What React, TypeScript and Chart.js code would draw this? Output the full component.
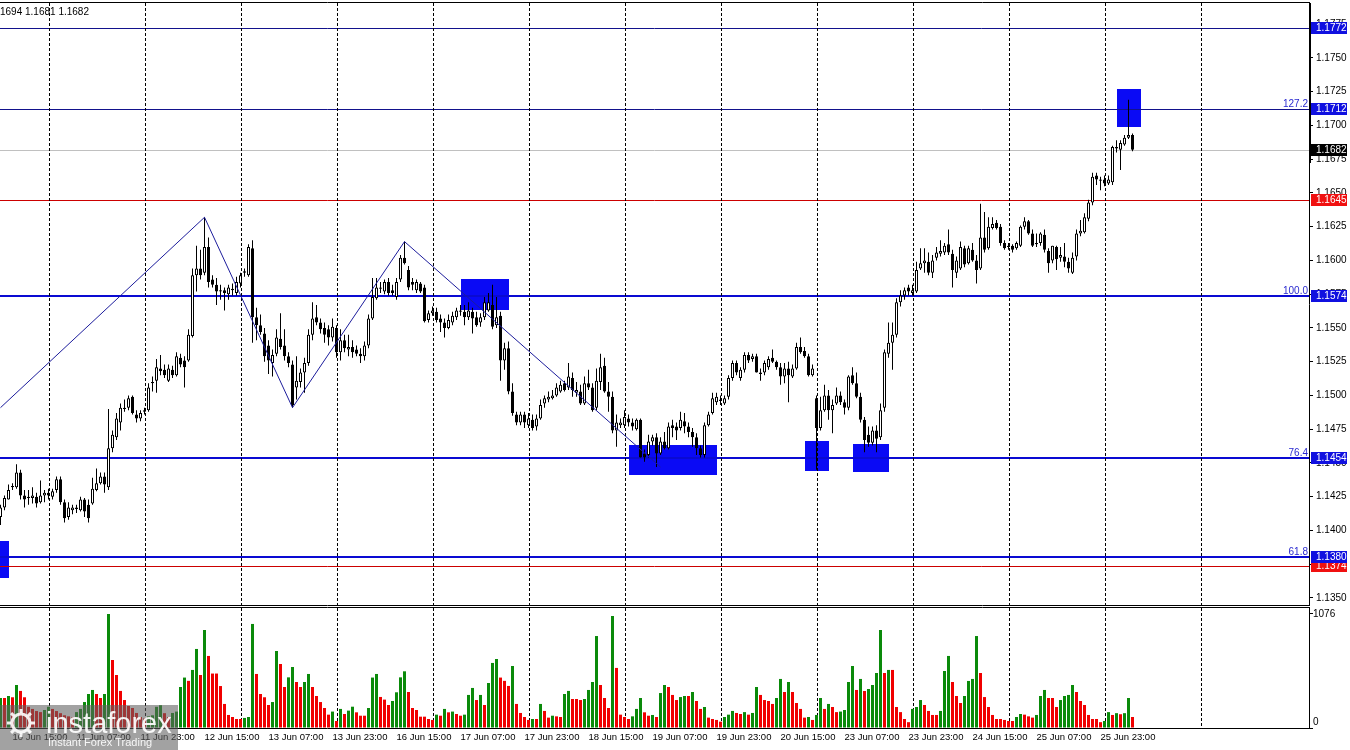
import { useEffect, useRef } from 'react';
import { Chart, registerables } from 'chart.js';
Chart.register(...registerables);

// ---------- DATA (EURUSD H1) ----------
const opens = [
1.1410,1.1417,1.1423,1.1432,1.1432,1.1443,1.1426,1.1424,1.1424,1.1425,
1.1421,1.1426,1.1428,1.1425,1.1430,1.1438,1.1421,1.1410,1.1415,1.1417,
1.1415,1.1423,1.1419,1.1420,1.1430,1.1435,1.1440,1.1432,1.1461,1.1469,
1.1480,1.1490,1.1491,1.1499,1.1486,1.1483,1.1488,1.1489,1.1509,1.1511,
1.1520,1.1519,1.1511,1.1519,1.1515,1.1528,1.1526,1.1526,1.1544,1.1589,
1.1594,1.1591,1.1610,1.1586,1.1582,1.1577,1.1578,1.1575,1.1579,1.1576,
1.1583,1.1591,1.1589,1.1609,1.1558,1.1552,1.1546,1.1537,1.1524,1.1531,
1.1542,1.1537,1.1529,1.1523,1.1506,1.1510,1.1517,1.1524,1.1545,1.1558,
1.1554,1.1550,1.1549,1.1543,1.1550,1.1532,1.1541,1.1534,1.1536,1.1534,
1.1531,1.1529,1.1537,1.1557,1.1572,1.1579,1.1577,1.1584,1.1578,1.1573,
1.1586,1.1602,1.1593,1.1584,1.1578,1.1583,1.1580,1.1556,1.1561,1.1562,
1.1557,1.1554,1.1550,1.1554,1.1558,1.1562,1.1562,1.1558,1.1562,1.1558,
1.1554,1.1558,1.1563,1.1567,1.1552,1.1559,1.1526,1.1535,1.1503,1.1486,
1.1480,1.1486,1.1478,1.1482,1.1477,1.1483,1.1494,1.1497,1.1498,1.1500,
1.1503,1.1509,1.1506,1.1513,1.1502,1.1503,1.1494,1.1509,1.1506,1.1491,
1.1510,1.1522,1.1503,1.1499,1.1474,1.1478,1.1478,1.1483,1.1480,1.1475,
1.1482,1.1457,1.1456,1.1466,1.1469,1.1457,1.1466,1.1461,1.1478,1.1477,
1.1476,1.1481,1.1477,1.1473,1.1469,1.1461,1.1456,1.1478,1.1487,1.1495,
1.1497,1.1494,1.1499,1.1513,1.1524,1.1513,1.1519,1.1530,1.1527,1.1529,
1.1517,1.1517,1.1521,1.1528,1.1525,1.1521,1.1514,1.1520,1.1514,1.1520,
1.1536,1.1533,1.1529,1.1515,1.1498,1.1476,1.1489,1.1500,1.1489,1.1494,
1.1500,1.1495,1.1491,1.1515,1.1509,1.1499,1.1482,1.1471,1.1465,1.1474,
1.1469,1.1491,1.1531,1.1539,1.1545,1.1569,1.1574,1.1580,1.1576,1.1577,
1.1594,1.1598,1.1599,1.1591,1.1602,1.1605,1.1606,1.1612,1.1605,1.1591,
1.1594,1.1609,1.1598,1.1608,1.1600,1.1594,1.1617,1.1609,1.1624,1.1628,
1.1625,1.1613,1.1610,1.1611,1.1609,1.1611,1.1625,1.1629,1.1620,1.1612,
1.1613,1.1619,1.1607,1.1600,1.1610,1.1602,1.1603,1.1599,1.1591,1.1603,
1.1620,1.1621,1.1631,1.1643,1.1663,1.1660,1.1660,1.1657,1.1658,1.1683,
1.1682,1.1686,1.1691,1.1693];

const highs = [
1.1419,1.1426,1.1434,1.1435,1.1449,1.1445,1.1430,1.1430,1.1432,1.1428,
1.1437,1.1430,1.1431,1.1431,1.1440,1.1440,1.1423,1.1421,1.1419,1.1419,
1.1425,1.1424,1.1423,1.1439,1.1446,1.1443,1.1443,1.1490,1.1474,1.1487,
1.1494,1.1497,1.1500,1.1500,1.1489,1.1489,1.1491,1.1509,1.1514,1.1527,
1.1530,1.1523,1.1523,1.1522,1.1532,1.1531,1.1529,1.1549,1.1594,1.1611,
1.1608,1.1632,1.1617,1.1589,1.1587,1.1582,1.1580,1.1582,1.1583,1.1588,
1.1591,1.1594,1.1612,1.1615,1.1565,1.1560,1.1550,1.1541,1.1534,1.1549,
1.1561,1.1549,1.1532,1.1526,1.1529,1.1520,1.1528,1.1549,1.1569,1.1567,
1.1557,1.1554,1.1552,1.1557,1.1552,1.1549,1.1545,1.1545,1.1541,1.1537,
1.1535,1.1540,1.1560,1.1587,1.1587,1.1584,1.1586,1.1587,1.1582,1.1587,
1.1604,1.1614,1.1596,1.1587,1.1586,1.1584,1.1582,1.1563,1.1566,1.1565,
1.1560,1.1557,1.1560,1.1562,1.1565,1.1567,1.1567,1.1569,1.1565,1.1562,
1.1561,1.1573,1.1576,1.1582,1.1573,1.1562,1.1539,1.1540,1.1509,1.1488,
1.1488,1.1488,1.1487,1.1486,1.1486,1.1497,1.1500,1.1503,1.1504,1.1509,
1.1511,1.1511,1.1524,1.1517,1.1510,1.1508,1.1514,1.1519,1.1509,1.1520,
1.1531,1.1528,1.1510,1.1503,1.1486,1.1483,1.1489,1.1486,1.1483,1.1483,
1.1483,1.1460,1.1471,1.1471,1.1472,1.1469,1.1473,1.1480,1.1482,1.1480,
1.1488,1.1487,1.1480,1.1476,1.1472,1.1463,1.1480,1.1488,1.1502,1.1502,
1.1500,1.1500,1.1515,1.1526,1.1526,1.1521,1.1532,1.1532,1.1531,1.1531,
1.1520,1.1526,1.1529,1.1534,1.1526,1.1524,1.1524,1.1525,1.1523,1.1539,
1.1543,1.1536,1.1531,1.1523,1.1500,1.1499,1.1508,1.1504,1.1497,1.1506,
1.1503,1.1497,1.1515,1.1521,1.1517,1.1502,1.1484,1.1477,1.1477,1.1478,
1.1494,1.1534,1.1554,1.1554,1.1572,1.1578,1.1580,1.1582,1.1582,1.1599,
1.1609,1.1609,1.1606,1.1604,1.1610,1.1615,1.1613,1.1623,1.1608,1.1603,
1.1614,1.1611,1.1611,1.1613,1.1604,1.1642,1.1636,1.1632,1.1632,1.1630,
1.1627,1.1615,1.1613,1.1612,1.1614,1.1626,1.1632,1.1630,1.1623,1.1620,
1.1621,1.1623,1.1609,1.1611,1.1611,1.1610,1.1613,1.1602,1.1606,1.1623,
1.1630,1.1635,1.1645,1.1665,1.1665,1.1662,1.1663,1.1663,1.1685,1.1689,
1.1689,1.1693,1.1719,1.1694];

const lows = [
1.1404,1.1415,1.1423,1.1430,1.1431,1.1423,1.1417,1.1419,1.1420,1.1417,
1.1420,1.1421,1.1423,1.1423,1.1428,1.1419,1.1406,1.1408,1.1412,1.1413,
1.1414,1.1410,1.1406,1.1419,1.1429,1.1434,1.1428,1.1430,1.1458,1.1467,
1.1474,1.1488,1.1489,1.1486,1.1480,1.1481,1.1486,1.1488,1.1503,1.1502,
1.1515,1.1513,1.1510,1.1513,1.1514,1.1521,1.1506,1.1525,1.1543,1.1577,
1.1586,1.1589,1.1580,1.1580,1.1567,1.1571,1.1563,1.1571,1.1574,1.1574,
1.1580,1.1588,1.1588,1.1539,1.1541,1.1545,1.1525,1.1516,1.1514,1.1529,
1.1534,1.1526,1.1521,1.1491,1.1497,1.1506,1.1502,1.1522,1.1541,1.1552,
1.1546,1.1539,1.1537,1.1540,1.1528,1.1526,1.1532,1.1529,1.1528,1.1529,
1.1524,1.1526,1.1535,1.1556,1.1571,1.1576,1.1575,1.1574,1.1574,1.1571,
1.1584,1.1597,1.1578,1.1578,1.1576,1.1576,1.1554,1.1554,1.1559,1.1554,
1.1547,1.1543,1.1549,1.1552,1.1556,1.1559,1.1552,1.1556,1.1546,1.1551,
1.1551,1.1556,1.1562,1.1549,1.1550,1.1511,1.1519,1.1501,1.1485,1.1478,
1.1478,1.1476,1.1476,1.1474,1.1474,1.1482,1.1491,1.1495,1.1497,1.1499,
1.1502,1.1503,1.1504,1.1499,1.1499,1.1493,1.1493,1.1504,1.1488,1.1489,
1.1504,1.1502,1.1488,1.1472,1.1462,1.1476,1.1476,1.1477,1.1474,1.1474,
1.1454,1.1451,1.1454,1.1463,1.1447,1.1456,1.1460,1.1460,1.1469,1.1467,
1.1474,1.1472,1.1469,1.1462,1.1456,1.1454,1.1454,1.1477,1.1486,1.1493,
1.1493,1.1493,1.1497,1.1511,1.1515,1.1511,1.1517,1.1524,1.1525,1.1517,
1.1511,1.1515,1.1519,1.1524,1.1519,1.1508,1.1509,1.1495,1.1513,1.1519,
1.1531,1.1528,1.1514,1.1514,1.1445,1.1474,1.1488,1.1482,1.1472,1.1493,
1.1493,1.1486,1.1489,1.1508,1.1498,1.1480,1.1458,1.1462,1.1463,1.1458,
1.1467,1.1488,1.1528,1.1519,1.1543,1.1566,1.1571,1.1574,1.1574,1.1576,
1.1593,1.1591,1.1589,1.1587,1.1600,1.1603,1.1604,1.1604,1.1580,1.1587,
1.1593,1.1595,1.1597,1.1599,1.1583,1.1593,1.1606,1.1608,1.1623,1.1623,
1.1611,1.1608,1.1608,1.1606,1.1608,1.1610,1.1623,1.1619,1.1610,1.1610,
1.1611,1.1606,1.1591,1.1598,1.1593,1.1599,1.1595,1.1591,1.1590,1.1600,
1.1618,1.1620,1.1629,1.1641,1.1656,1.1652,1.1655,1.1656,1.1656,1.1680,
1.1667,1.1685,1.1690,1.1681];

const closes = [
1.1417,1.1424,1.1430,1.1433,1.1443,1.1426,1.1423,1.1425,1.1426,1.1420,
1.1426,1.1428,1.1426,1.1429,1.1438,1.1421,1.1409,1.1417,1.1417,1.1416,
1.1423,1.1414,1.1409,1.1431,1.1435,1.1440,1.1434,1.1461,1.1471,1.1483,
1.1491,1.1491,1.1498,1.1487,1.1483,1.1487,1.1489,1.1506,1.1510,1.1521,
1.1518,1.1515,1.1520,1.1515,1.1529,1.1523,1.1521,1.1545,1.1589,1.1594,
1.1589,1.1610,1.1584,1.1582,1.1577,1.1578,1.1576,1.1580,1.1578,1.1584,
1.1589,1.1592,1.1610,1.1558,1.1552,1.1547,1.1529,1.1526,1.1530,1.1543,
1.1536,1.1529,1.1524,1.1493,1.1511,1.1517,1.1524,1.1545,1.1557,1.1554,
1.1549,1.1545,1.1543,1.1551,1.1532,1.1541,1.1535,1.1536,1.1532,1.1531,
1.1529,1.1537,1.1557,1.1573,1.1580,1.1580,1.1584,1.1576,1.1576,1.1584,
1.1602,1.1598,1.1580,1.1582,1.1584,1.1577,1.1555,1.1561,1.1563,1.1556,
1.1554,1.1550,1.1556,1.1559,1.1563,1.1563,1.1558,1.1563,1.1557,1.1552,
1.1558,1.1569,1.1569,1.1551,1.1558,1.1526,1.1535,1.1503,1.1487,1.1480,
1.1486,1.1480,1.1483,1.1476,1.1483,1.1493,1.1498,1.1499,1.1500,1.1506,
1.1508,1.1504,1.1514,1.1504,1.1504,1.1494,1.1509,1.1506,1.1489,1.1511,
1.1521,1.1503,1.1499,1.1474,1.1480,1.1480,1.1484,1.1480,1.1477,1.1482,
1.1454,1.1454,1.1466,1.1469,1.1457,1.1466,1.1461,1.1477,1.1476,1.1474,
1.1482,1.1477,1.1473,1.1469,1.1461,1.1456,1.1478,1.1486,1.1498,1.1499,
1.1496,1.1498,1.1513,1.1524,1.1517,1.1519,1.1530,1.1526,1.1529,1.1517,
1.1516,1.1524,1.1527,1.1525,1.1521,1.1514,1.1520,1.1515,1.1520,1.1536,
1.1532,1.1529,1.1515,1.1520,1.1476,1.1489,1.1500,1.1489,1.1493,1.1500,
1.1495,1.1491,1.1514,1.1509,1.1499,1.1482,1.1467,1.1465,1.1474,1.1468,
1.1489,1.1532,1.1539,1.1545,1.1569,1.1574,1.1578,1.1577,1.1578,1.1593,
1.1598,1.1600,1.1591,1.1600,1.1606,1.1607,1.1611,1.1606,1.1593,1.1600,
1.1610,1.1597,1.1609,1.1600,1.1593,1.1617,1.1608,1.1625,1.1627,1.1624,
1.1613,1.1609,1.1611,1.1608,1.1613,1.1625,1.1629,1.1620,1.1611,1.1613,
1.1620,1.1608,1.1598,1.1611,1.1601,1.1604,1.1599,1.1594,1.1602,1.1620,
1.1622,1.1632,1.1643,1.1662,1.1660,1.1659,1.1657,1.1660,1.1684,1.1684,
1.1687,1.1691,1.1693,1.1682];

const volumes = [
283,283,302,290,406,350,290,200,180,160,
150,170,200,180,160,140,120,110,100,150,
180,245,321,359,321,283,321,1076,642,500,
350,264,208,189,142,104,90,110,120,200,
215,140,104,142,155,387,476,445,548,746,
500,925,680,514,514,396,227,123,104,85,
85,95,104,982,510,321,290,217,245,727,
604,387,478,576,434,387,434,510,387,302,
245,189,126,155,66,180,132,164,201,148,
116,116,189,476,510,293,268,217,255,337,
478,535,340,189,170,107,107,85,76,126,
116,180,148,155,132,116,126,312,378,264,
312,217,425,614,651,476,445,397,585,227,
142,104,76,85,85,227,161,98,116,110,
104,321,350,274,274,264,274,359,434,868,
406,283,189,1057,567,126,104,85,110,180,
283,148,116,123,104,330,406,387,312,264,
292,302,302,340,255,180,198,98,85,76,
60,104,126,161,142,132,150,126,142,387,
312,264,255,227,283,463,340,434,340,236,
180,98,104,76,123,283,180,227,198,150,
155,170,434,585,359,463,349,368,406,519,
925,519,548,548,198,150,85,55,180,198,
264,217,161,123,123,161,538,680,434,302,
236,302,444,463,868,519,292,198,123,85,
85,76,66,66,104,132,126,110,98,123,
302,359,283,283,198,264,302,312,406,340,
255,217,123,85,85,55,66,150,123,140,
130,140,283,104];

// time axis (bar index -> label)
const timeLabelIdx = [3, 19, 35, 51, 67, 83, 99, 115, 131, 147, 163, 179, 195, 211, 227, 243, 259, 275];
const timeLabels = ['10 Jun 15:00', '11 Jun 07:00', '11 Jun 23:00', '12 Jun 15:00', '13 Jun 07:00', '13 Jun 23:00',
  '16 Jun 15:00', '17 Jun 07:00', '17 Jun 23:00', '18 Jun 15:00', '19 Jun 07:00', '19 Jun 23:00',
  '20 Jun 15:00', '23 Jun 07:00', '23 Jun 23:00', '24 Jun 15:00', '25 Jun 07:00', '25 Jun 23:00'];
const gridIdx = [12.25, 36.25, 60.25, 84.25, 108.25, 132.25, 156.25, 180.25, 204.25, 228.25, 252.25, 276.25, 300.25];
const priceTicks = [1.1350, 1.1375, 1.1400, 1.1425, 1.1450, 1.1475, 1.1500, 1.1525, 1.1550, 1.1575,
  1.1600, 1.1625, 1.1650, 1.1675, 1.1700, 1.1725, 1.1750, 1.1775];
const volTicks = [0, 1076];

// horizontal levels (drawing order)
const levelPrices = [1.1772, 1.1712, 1.1682, 1.1645, 1.1574, 1.1454, 1.1374, 1.1380];
const levelLineColors = ['#12128c', '#12128c', '#c0c0c0', '#cc0000', '#0a0ad2', '#0a0ad2', '#cc0000', '#0a0ad2'];
const levelLineWidths = [1, 1, 1, 1, 2, 2, 1, 2];
const levelTagColors = ['#1010e0', '#1010e0', '#000000', '#f01010', '#1010e0', '#1010e0', '#f01010', '#1010e0'];
const fibPrices = [1.1712, 1.1574, 1.1454, 1.1380];
const fibTexts = ['127.2', '100.0', '76.4', '61.8'];

// zigzag
const zigzagIdx = [0, 51, 73, 101, 165];
const zigzagPrices = [1.1491, 1.1632, 1.1491, 1.1614, 1.1447];

// blue rectangles (bar-index range, price range)
const boxStart = [279.1, 115.1, 157.1, 201.1, 213.1, -0.2];
const boxEnd = [285.1, 127.1, 179.1, 207.1, 222.1, 2.1];
const boxTop = [1.1727, 1.1586, 1.1463, 1.1466, 1.1464, 1.1392];
const boxBottom = [1.1699, 1.1563, 1.1441, 1.1444, 1.1443, 1.1365];

const headerText = '1694 1.1681 1.1682';

// ---------- layout constants ----------
const X_MIN = -0.125;
const X_MAX = 327.125;
const PRICE_MAX = 1.179074;
const PRICE_MIN = 1.134481;
const VOL_MAX = 1132.6;
const FONT = '"Liberation Sans", Arial, sans-serif';
const GREEN = '#0a8a0a';
const RED = '#f00000';

export default function App() {
  const priceRef = useRef<HTMLCanvasElement>(null);
  const volRef = useRef<HTMLCanvasElement>(null);

  useEffect(() => {
    const idx = opens.map((_, i) => i);
    const wickData = idx.map((i) => ({ x: i, y: [lows[i], highs[i]] }));
    const bodyData = idx.map((i) => ({ x: i, y: [Math.min(opens[i], closes[i]), Math.max(opens[i], closes[i])] }));
    const bodyFill = idx.map((i) => (closes[i] >= opens[i] ? '#ffffff' : '#000000'));
    const zz = zigzagIdx.map((x, k) => ({ x, y: zigzagPrices[k] }));
    const volData = idx.map((i) => ({ x: i, y: volumes[i] }));
    const volColors = idx.map((i) => (i === 0 || volumes[i] > volumes[i - 1] ? GREEN : RED));

    const pricePlugin = {
      id: 'priceDecor',
      beforeDraw(chart: any) {
        const { ctx, chartArea: a, scales } = chart;
        const x = scales.x, y = scales.y;
        ctx.save();
        ctx.beginPath();
        ctx.rect(a.left, a.top, a.right - a.left, a.bottom - a.top);
        ctx.clip();
        ctx.fillStyle = '#0a0af5';
        boxStart.forEach((s, k) => {
          const x1 = Math.round(x.getPixelForValue(s));
          const x2 = Math.round(x.getPixelForValue(boxEnd[k]));
          const y1 = Math.round(y.getPixelForValue(boxTop[k]));
          const y2 = Math.round(y.getPixelForValue(boxBottom[k]));
          ctx.fillRect(x1, y1, x2 - x1, y2 - y1);
        });
        levelPrices.forEach((p, k) => {
          const w = levelLineWidths[k];
          const py = Math.round(y.getPixelForValue(p)) + (w % 2 ? 0.5 : 0);
          ctx.strokeStyle = levelLineColors[k];
          ctx.lineWidth = w;
          ctx.beginPath();
          ctx.moveTo(a.left, py);
          ctx.lineTo(a.right, py);
          ctx.stroke();
        });
        ctx.restore();
      },
      afterDraw(chart: any) {
        const { ctx, chartArea: a, scales } = chart;
        const y = scales.y;
        ctx.save();
        ctx.strokeStyle = '#000';
        ctx.lineWidth = 1;
        ctx.beginPath();
        ctx.moveTo(0, a.top - 0.5); ctx.lineTo(a.right + 1, a.top - 0.5);
        ctx.moveTo(0, a.bottom + 0.5); ctx.lineTo(a.right + 1, a.bottom + 0.5);
        ctx.stroke();
        ctx.fillStyle = '#000';
        ctx.fillRect(a.right, a.top, 2, 160);
        ctx.font = `10px ${FONT}`;
        ctx.fillStyle = '#2a2ad0';
        ctx.textAlign = 'right';
        ctx.textBaseline = 'alphabetic';
        fibPrices.forEach((p, k) => {
          const py = Math.round(y.getPixelForValue(p));
          ctx.fillText(fibTexts[k], a.right - 1, py - 2);
        });
        ctx.textAlign = 'left';
        ctx.textBaseline = 'middle';
        levelPrices.forEach((p, k) => {
          const py = Math.round(y.getPixelForValue(p));
          ctx.fillStyle = levelTagColors[k];
          ctx.fillRect(a.right + 2, py - 6, 36, 12);
          ctx.fillStyle = '#fff';
          ctx.fillText(p.toFixed(4), a.right + 7, py + 0.5);
        });
        ctx.fillStyle = '#000';
        ctx.textBaseline = 'alphabetic';
        ctx.fillText(headerText, 0, 15);
        ctx.restore();
      },
    };

    const volPlugin = {
      id: 'volDecor',
      afterDraw(chart: any) {
        const { ctx, chartArea: a, scales } = chart;
        const y = scales.y;
        ctx.save();
        ctx.strokeStyle = '#000';
        ctx.lineWidth = 1;
        ctx.beginPath();
        ctx.moveTo(0, a.top - 0.5); ctx.lineTo(a.right + 1, a.top - 0.5);
        ctx.moveTo(0, a.bottom + 0.5); ctx.lineTo(a.right + 1, a.bottom + 0.5);
        ctx.stroke();
        ctx.font = `10px ${FONT}`;
        ctx.fillStyle = '#000';
        ctx.textAlign = 'left';
        ctx.textBaseline = 'middle';
        ctx.fillText('0', a.right + 4, y.getPixelForValue(0) - 6);
        // watermark
        const top = 99;
        ctx.fillStyle = 'rgba(95,95,95,0.58)';
        ctx.fillRect(0, top, 178, chart.height - top);
        ctx.strokeStyle = 'rgba(255,255,255,0.9)';
        ctx.lineWidth = 3;
        ctx.beginPath();
        ctx.arc(21, top + 18, 9, 0, Math.PI * 2);
        ctx.stroke();
        for (let t = 0; t < 8; t++) {
          const ang = (t * Math.PI) / 4;
          ctx.beginPath();
          ctx.moveTo(21 + Math.cos(ang) * 10, top + 18 + Math.sin(ang) * 10);
          ctx.lineTo(21 + Math.cos(ang) * 14, top + 18 + Math.sin(ang) * 14);
          ctx.stroke();
        }
        ctx.fillStyle = 'rgba(255,255,255,0.92)';
        ctx.font = `29px ${FONT}`;
        ctx.textBaseline = 'alphabetic';
        ctx.fillText('instaforex', 46, top + 28);
        ctx.font = `11px ${FONT}`;
        ctx.fillText('Instant Forex Trading', 48, top + 41);
        ctx.restore();
      },
    };

    const gridAxis = () => ({
      type: 'linear',
      min: X_MIN,
      max: X_MAX,
      offset: false,
      position: 'bottom',
      afterBuildTicks: (s: any) => { s.ticks = gridIdx.map((v) => ({ value: v })); },
      ticks: { display: false },
      grid: { color: '#000', lineWidth: 1, drawTicks: false, offset: false },
      border: { display: false, dash: [3, 2] },
      afterFit: (s: any) => { s.height = 0; s.paddingLeft = 0; s.paddingRight = 0; },
    });

    const priceChart = new Chart(priceRef.current as HTMLCanvasElement, {
      type: 'bar',
      data: {
        datasets: [
          { type: 'line', data: zz, borderColor: '#1c1c9c', borderWidth: 1, pointRadius: 0, fill: false, tension: 0, order: 0 } as any,
          { type: 'bar', data: bodyData, backgroundColor: bodyFill, borderColor: '#000', borderWidth: 1, borderSkipped: false, barThickness: 3, grouped: false, inflateAmount: 0, order: 1 } as any,
          { type: 'bar', data: wickData, backgroundColor: '#000', borderWidth: 0, barThickness: 1, grouped: false, inflateAmount: 0, order: 2 } as any,
        ],
      },
      options: {
        responsive: false,
        animation: false,
        events: [],
        layout: { padding: { top: 3, bottom: 1, left: 0, right: 0 } },
        plugins: { legend: { display: false }, tooltip: { enabled: false } },
        scales: {
          x: gridAxis() as any,
          y: {
            type: 'linear',
            position: 'right',
            min: PRICE_MIN,
            max: PRICE_MAX,
            afterBuildTicks: (s: any) => { s.ticks = priceTicks.map((v) => ({ value: v })); },
            ticks: { callback: (v: any) => Number(v).toFixed(4), font: { family: FONT, size: 10 }, color: '#000', padding: 3 },
            grid: { drawOnChartArea: false, drawTicks: true, tickLength: 4, color: '#000' },
            border: { display: true, color: '#000', width: 1 },
            afterFit: (s: any) => { s.width = 41; s.paddingTop = 0; s.paddingBottom = 0; },
          } as any,
        },
      },
      plugins: [pricePlugin],
    });

    const volChart = new Chart(volRef.current as HTMLCanvasElement, {
      type: 'bar',
      data: {
        datasets: [
          { data: volData, backgroundColor: volColors, borderWidth: 0, barThickness: 3, grouped: false, inflateAmount: 0, xAxisID: 'x', yAxisID: 'y' } as any,
        ],
      },
      options: {
        responsive: false,
        animation: false,
        events: [],
        layout: { padding: { top: 2, bottom: 0, left: 0, right: 0 } },
        plugins: { legend: { display: false }, tooltip: { enabled: false } },
        scales: {
          x: {
            type: 'linear',
            min: X_MIN,
            max: X_MAX,
            offset: false,
            position: 'bottom',
            afterBuildTicks: (s: any) => { s.ticks = timeLabelIdx.map((v) => ({ value: v })); },
            ticks: {
              autoSkip: false, maxRotation: 0, minRotation: 0, align: 'start', padding: 4,
              font: { family: FONT, size: 9.5 }, color: '#000',
              callback: (v: any) => timeLabels[timeLabelIdx.indexOf(Number(v))] || '',
            },
            grid: { display: false, drawTicks: false, offset: false },
            border: { display: false },
            afterFit: (s: any) => { s.height = 22; s.paddingLeft = 0; s.paddingRight = 0; },
          } as any,
          xg: gridAxis() as any,
          y: {
            type: 'linear',
            position: 'right',
            min: 0,
            max: VOL_MAX,
            afterBuildTicks: (s: any) => { s.ticks = volTicks.map((v) => ({ value: v })); },
            ticks: { callback: (v: any) => (Number(v) === 0 ? '' : String(v)), font: { family: FONT, size: 10 }, color: '#000', padding: 0 },
            grid: { drawOnChartArea: false, drawTicks: true, tickLength: 4, color: '#000' },
            border: { display: true, color: '#000', width: 1 },
            afterFit: (s: any) => { s.width = 41; s.paddingTop = 0; s.paddingBottom = 0; },
          } as any,
        },
      },
      plugins: [volPlugin],
    });

    return () => {
      priceChart.destroy();
      volChart.destroy();
    };
  }, []);

  return (
    <div style={{ position: 'fixed', left: 0, top: 0, width: 1350, height: 750, background: '#fff' }}>
      <canvas ref={priceRef} width={1350} height={606} style={{ position: 'absolute', left: 0, top: 0, width: 1350, height: 606 }} />
      <canvas ref={volRef} width={1350} height={144} style={{ position: 'absolute', left: 0, top: 606, width: 1350, height: 144 }} />
    </div>
  );
}
